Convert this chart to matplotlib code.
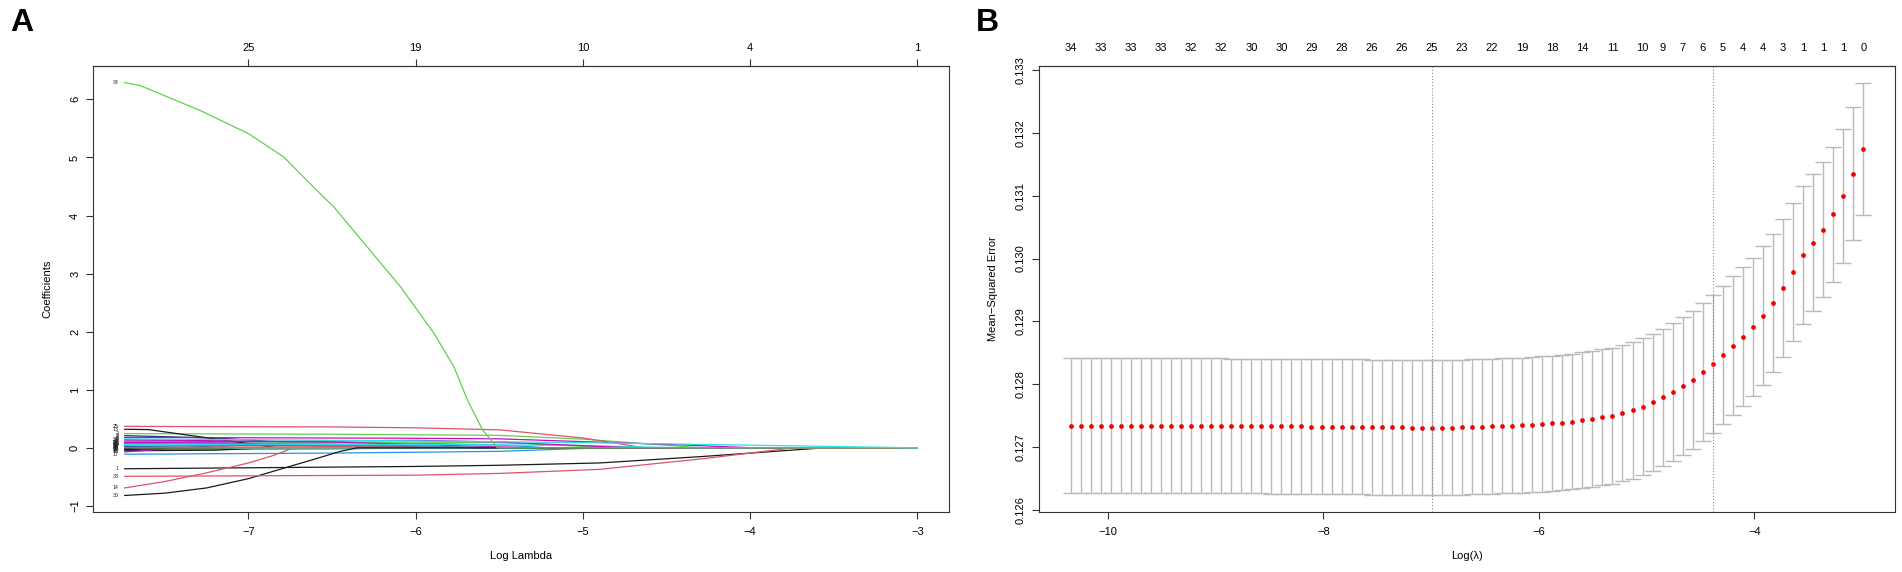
import matplotlib
matplotlib.use("Agg")
import matplotlib.pyplot as plt
import numpy as np

plt.rcParams['font.family'] = ['Liberation Sans', 'DejaVu Sans']
plt.rcParams['axes.unicode_minus'] = True

BLACK = '#1a1a1a'
PINK = '#DF536B'
GREEN = '#61D04F'
BLUE = '#2297E6'
CYAN = '#28E2E5'
MAGENTA = '#CD0BBC'
NAVY = '#2E2A8C'
LAVENDER = '#9B8FE0'

# ---------------- panel A: lasso coefficient paths ----------------
lambda_a_range = [-7.74, -3.0]
top_a_ticks = [-7, -6, -5, -4, -3]
top_a_labels = ['25', '19', '10', '4', '1']

coef_ids = [1, 2, 3, 4, 6, 7, 8, 9, 10, 11, 12, 13, 14, 15, 16, 17, 18, 19, 20,
            21, 22, 23, 24, 25, 26, 27, 28, 29, 30, 31, 32, 33, 34, 5]
coef_colors = [BLACK, GREEN, NAVY, MAGENTA, BLUE, LAVENDER, MAGENTA, GREEN, GREEN,
               BLUE, BLACK, BLACK, PINK, BLACK, MAGENTA, BLUE, PINK, CYAN, BLACK,
               BLUE, LAVENDER, GREEN, MAGENTA, PINK, CYAN, NAVY, BLUE, PINK, BLACK,
               CYAN, MAGENTA, PINK, GREEN, CYAN]
coef_x = [
    [-7.74, -6.0, -5.5, -4.9, -4.29, -3.56],                 # 1
    [-7.74, -6.5, -5.5, -5.0, -4.29],                        # 2
    [-7.74, -7.2, -6.8, -6.5, -6.2],                         # 3
    [-7.74, -6.0, -5.5, -4.5, -3.97],                        # 4
    [-7.74, -7.0, -6.0, -5.5, -5.2],                         # 6
    [-7.74, -6.5, -6.0, -5.7],                               # 7
    [-7.74, -6.8, -6.3],                                     # 8
    [-7.74, -6.0, -5.5, -4.8],                               # 9
    [-7.74, -7.3],                                           # 10
    [-7.74, -7.5],                                           # 11
    [-7.74, -6.5, -5.8],                                     # 12
    [-7.74, -7.6, -7.29, -7.09, -6.83],                      # 13
    [-7.74, -7.5, -7.25, -7.0, -6.85, -6.73],                # 14
    [-7.74, -7.2, -6.9],                                     # 15
    [-7.74, -7.4],                                           # 16
    [-7.74, -6.5, -5.5, -4.9],                               # 17
    [-7.74, -7.6],                                           # 18
    [-7.74, -7.2],                                           # 19
    [-7.74, -7.45],                                          # 20
    [-7.74, -7.1],                                           # 21
    [-7.74, -7.4, -7.05],                                    # 22
    [-7.74, -7.65],                                          # 23
    [-7.74, -6.5, -5.3],                                     # 24
    [-7.74, -6.5, -6.0, -5.5, -5.0, -4.63],                  # 25
    [-7.74, -6.5, -5.9],                                     # 26
    [-7.74, -6.5, -5.6],                                     # 27
    [-7.74, -6.0, -5.45],                                    # 28
    [-7.74, -6.5, -5.1],                                     # 29
    [-7.74, -7.5, -7.25, -7.0, -6.8, -6.6, -6.45, -6.35],    # 30
    [-7.74, -6.0, -5.0, -4.4],                               # 31
    [-7.74, -6.0, -5.5, -4.7],                               # 32
    [-7.74, -6.0, -5.5, -4.9, -4.29, -3.74],                 # 33
    [-7.74, -7.65, -7.29, -7.0, -6.79, -6.59, -6.49, -6.29,
     -6.09, -5.89, -5.77, -5.69, -5.60, -5.51],              # 34
    [-7.74, -6.0, -5.0, -4.3, -3.75, -3.0],                  # 5
]
coef_y = [
    [-0.36, -0.32, -0.30, -0.26, -0.15, 0.0],
    [0.245, 0.235, 0.215, 0.15, 0.0],
    [0.21, 0.17, 0.10, 0.05, 0.0],
    [0.18, 0.165, 0.155, 0.06, 0.0],
    [0.125, 0.11, 0.08, 0.05, 0.0],
    [0.11, 0.07, 0.04, 0.0],
    [0.08, 0.06, 0.0],
    [0.064, 0.10, 0.09, 0.0],
    [0.02, 0.0],
    [-0.005, 0.0],
    [-0.02, -0.015, 0.0],
    [0.32, 0.315, 0.19, 0.11, 0.0],
    [-0.69, -0.58, -0.43, -0.26, -0.13, 0.0],
    [-0.05, -0.04, 0.0],
    [-0.07, 0.0],
    [-0.11, -0.09, -0.06, 0.0],
    [0.05, 0.0],
    [0.03, 0.0],
    [-0.03, 0.0],
    [0.09, 0.0],
    [0.135, 0.08, 0.0],
    [0.01, 0.0],
    [0.14, 0.10, 0.0],
    [0.37, 0.36, 0.345, 0.31, 0.17, 0.0],
    [0.06, 0.04, 0.0],
    [0.03, 0.05, 0.0],
    [0.10, 0.03, 0.0],
    [0.005, 0.02, 0.0],
    [-0.82, -0.78, -0.69, -0.53, -0.36, -0.19, -0.06, 0.0],
    [0.045, 0.06, 0.04, 0.0],
    [0.09, 0.13, 0.10, 0.0],
    [-0.49, -0.47, -0.44, -0.37, -0.19, 0.0],
    [6.29, 6.24, 5.81, 5.41, 5.01, 4.43, 4.15, 3.46,
     2.77, 1.97, 1.39, 0.82, 0.31, 0.0],
    [0.155, 0.12, 0.09, 0.06, 0.035, 0.0],
]

# ---------------- panel B: cross-validation curve ----------------
log_lambda = [
    -10.345, -10.252, -10.159, -10.066, -9.973, -9.880, -9.786, -9.693, -9.600, -9.507,
    -9.414, -9.321, -9.228, -9.135, -9.042, -8.948, -8.855, -8.762, -8.669, -8.576,
    -8.483, -8.390, -8.297, -8.204, -8.111, -8.017, -7.924, -7.831, -7.738, -7.645,
    -7.552, -7.459, -7.366, -7.273, -7.180, -7.087, -6.993, -6.900, -6.807, -6.714,
    -6.621, -6.528, -6.435, -6.342, -6.249, -6.155, -6.062, -5.969, -5.876, -5.783,
    -5.690, -5.597, -5.504, -5.411, -5.318, -5.225, -5.131, -5.038, -4.945, -4.852,
    -4.759, -4.666, -4.573, -4.480, -4.387, -4.293, -4.200, -4.107, -4.014, -3.921,
    -3.828, -3.735, -3.642, -3.549, -3.456, -3.362, -3.269, -3.176, -3.083, -2.990,
]
mse = [
    0.127345, 0.127345, 0.127345, 0.127345, 0.127345, 0.127345, 0.127345, 0.127345, 0.127345, 0.127345,
    0.127345, 0.127342, 0.127342, 0.127342, 0.127342, 0.127342, 0.127338, 0.127338, 0.127338, 0.127338,
    0.127334, 0.127334, 0.127334, 0.127334, 0.127330, 0.127330, 0.127330, 0.127325, 0.127325, 0.127325,
    0.127320, 0.127320, 0.127315, 0.127315, 0.127311, 0.127309, 0.127308, 0.127309, 0.127313, 0.127319,
    0.127324, 0.127329, 0.127335, 0.127340, 0.127345, 0.127350, 0.127361, 0.127372, 0.127382, 0.127393,
    0.127409, 0.127430, 0.127451, 0.127477, 0.127504, 0.127541, 0.127588, 0.127647, 0.127715, 0.127795,
    0.127879, 0.127975, 0.128075, 0.128192, 0.128324, 0.128467, 0.128615, 0.128758, 0.128911, 0.129091,
    0.129297, 0.129536, 0.129790, 0.130059, 0.130250, 0.130456, 0.130700, 0.130996, 0.131351, 0.131747,
]
mse_se = [
    0.001070, 0.001070, 0.001070, 0.001070, 0.001070, 0.001070, 0.001070, 0.001070, 0.001070, 0.001070,
    0.001070, 0.001070, 0.001070, 0.001070, 0.001070, 0.001070, 0.001071, 0.001071, 0.001071, 0.001071,
    0.001072, 0.001072, 0.001072, 0.001072, 0.001073, 0.001073, 0.001073, 0.001074, 0.001074, 0.001074,
    0.001074, 0.001074, 0.001074, 0.001074, 0.001074, 0.001074, 0.001074, 0.001074, 0.001074, 0.001074,
    0.001074, 0.001074, 0.001074, 0.001074, 0.001074, 0.001074, 0.001076, 0.001076, 0.001076, 0.001076,
    0.001076, 0.001080, 0.001080, 0.001080, 0.001080, 0.001080, 0.001085, 0.001088, 0.001090, 0.001090,
    0.001090, 0.001093, 0.001095, 0.001098, 0.001095, 0.001098, 0.001100, 0.001100, 0.001100, 0.001100,
    0.001100, 0.001098, 0.001100, 0.001095, 0.001090, 0.001074, 0.001074, 0.001063, 0.001053, 0.001050,
]
nz_idx = [0, 3, 6, 9, 12, 15, 18, 21, 24, 27, 30, 33, 36, 39, 42, 45, 48, 51, 54, 57,
          59, 61, 63, 65, 67, 69, 71, 73, 75, 77, 79]
nz_labels = ['34', '33', '33', '33', '32', '32', '30', '30', '29', '28', '26', '26', '25',
             '23', '22', '19', '18', '14', '11', '10', '9', '7', '6', '5', '4', '4', '3',
             '1', '1', '1', '0']
idx_min = 36
idx_1se = 64

W, H = 1902, 572
fig = plt.figure(figsize=(W / 100, H / 100), dpi=100)
box_w, box_h, box_b = 856, 446, 60
axA = fig.add_axes([93 / W, box_b / H, box_w / W, box_h / H])
axB = fig.add_axes([1039 / W, box_b / H, box_w / W, box_h / H])

# panel A
lo, hi = lambda_a_range
for vid, col, xs, ys in zip(coef_ids, coef_colors, coef_x, coef_y):
    xs = list(xs)
    ys = list(ys)
    if xs[-1] < hi:
        xs.append(hi)
        ys.append(0.0)
    axA.plot(xs, ys, color=col, lw=0.9, solid_joinstyle='round')
    axA.text(xs[0] - 0.035, ys[0], str(vid), fontsize=3.8, ha='right', va='center',
             color='#222222')

all_y = [v for ys in coef_y for v in ys]
pad_x = 0.04 * (hi - lo)
axA.set_xlim(lo - pad_x, hi + pad_x)
pad_y = 0.04 * (max(all_y) - min(all_y))
axA.set_ylim(min(all_y) - pad_y, max(all_y) + pad_y)
axA.set_xticks([-7, -6, -5, -4, -3])
axA.set_yticks(range(-1, 7))
axA.set_xlabel('Log Lambda', fontsize=8)
axA.set_ylabel('Coefficients', fontsize=8)
axA.xaxis.set_label_coords(0.5, -0.088)
axA.yaxis.set_label_coords(-0.047, 0.5)

topA = axA.secondary_xaxis('top')
topA.set_xticks(top_a_ticks, top_a_labels)
topA.tick_params(length=5, width=0.8, pad=4.5, labelsize=8, color='#333333')

# panel B
x = np.array(log_lambda)
m = np.array(mse)
s = np.array(mse_se)
barw = 0.01 * (x.max() - x.min())
err_col = '#b9b9b9'
axB.vlines(x, m - s, m + s, color=err_col, lw=1.0)
axB.hlines(m + s, x - barw, x + barw, color=err_col, lw=1.0)
axB.hlines(m - s, x - barw, x + barw, color=err_col, lw=1.0)
axB.plot(x, m, 'o', color='#ee0000', ms=3.4, mec='none')
for i in (idx_min, idx_1se):
    axB.axvline(x[i], color='#8a8a8a', lw=0.8, ls=(0, (1, 1.8)))

pad_x = 0.04 * (x.max() - x.min())
axB.set_xlim(x.min() - pad_x, x.max() + pad_x)
ylo, yhi = (m - s).min(), (m + s).max()
pad_y = 0.04 * (yhi - ylo)
axB.set_ylim(ylo - pad_y, yhi + pad_y)
axB.set_xticks([-10, -8, -6, -4])
axB.set_yticks([0.126, 0.127, 0.128, 0.129, 0.130, 0.131, 0.132, 0.133])
axB.set_yticklabels(['%.3f' % v for v in axB.get_yticks()])
axB.set_xlabel('Log(\u03bb)', fontsize=8)
axB.set_ylabel('Mean\u2212Squared Error', fontsize=8)
axB.xaxis.set_label_coords(0.5, -0.088)
axB.yaxis.set_label_coords(-0.048, 0.5)

topB = axB.secondary_xaxis('top')
topB.set_xticks(x[nz_idx], nz_labels)
topB.tick_params(length=0, pad=9.5, labelsize=8)

for ax in (axA, axB):
    for sp in ax.spines.values():
        sp.set_color('#333333')
        sp.set_linewidth(0.8)
    ax.tick_params(axis='x', length=5, width=0.8, pad=6, labelsize=8, color='#333333')
    ax.tick_params(axis='y', length=5, width=0.8, pad=4.3, labelsize=8, color='#333333',
                   labelrotation=90)
    plt.setp(ax.get_yticklabels(), va='center')
for sec in (topA, topB):
    sec.spines['top'].set_color('#333333')
    sec.spines['top'].set_linewidth(0.8)

fig.text(22 / W, 1 - 23 / H, 'A', fontsize=23, fontweight='bold', ha='center', va='center')
fig.text(987 / W, 1 - 23 / H, 'B', fontsize=23, fontweight='bold', ha='center', va='center')

fig.savefig('out.png', dpi=100, facecolor='white')
